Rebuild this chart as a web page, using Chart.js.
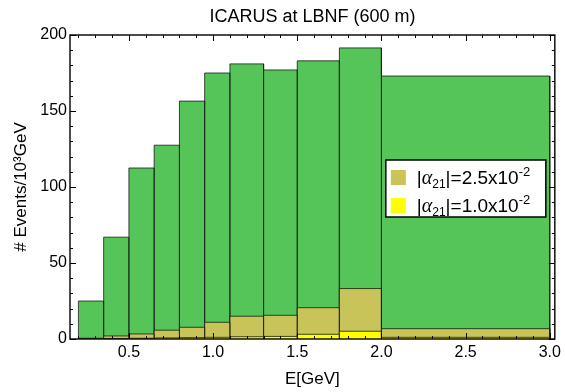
<!DOCTYPE html>
<html>
<head>
<meta charset="utf-8">
<script src="https://cdn.jsdelivr.net/npm/chart.js@4.4.1/dist/chart.umd.min.js"></script>
<style>
  html, body { margin: 0; padding: 0; background: #fff; }
</style>
</head>
<body>
<canvas id="icarusChart" width="565" height="392"></canvas>
<script>
// bin edges in GeV (11 bins, last one is wide)
const binEdges = [0.2, 0.35, 0.5, 0.65, 0.8, 0.95, 1.1, 1.3, 1.5, 1.75, 2.0, 3.0];
// events per 10^3 GeV
const totalEvents   = [25, 67, 112.5, 127.5, 156.5, 175, 181, 177, 183, 191.5, 173];
const alpha25Events = [0.5, 2, 3.3, 5.8, 7.7, 11, 15, 15.6, 20.6, 33.2, 6.8];
const alpha10Events = [0.1, 0.3, 0.5, 0.7, 0.9, 1.1, 1.5, 1.7, 3.1, 5.1, 1.1];
const xTickValues = [0.5, 1.0, 1.5, 2.0, 2.5, 3.0];
const yTickValues = [0, 50, 100, 150, 200];
const legendValues = ['2.5', '1.0'];
const seriesColors = ['#C8C45A', '#FFFF00'];

Chart.defaults.font.family = "'Liberation Sans', Arial, sans-serif";
Chart.defaults.font.size = 16;
Chart.defaults.color = '#000';

// turn bin values into a closed step outline so each bar gets its own edges
function histPoints(values) {
    const pts = [];
    for (let i = 0; i < values.length; i++) {
        pts.push({x: binEdges[i], y: 0});
        pts.push({x: binEdges[i], y: values[i]});
        pts.push({x: binEdges[i + 1], y: values[i]});
        pts.push({x: binEdges[i + 1], y: 0});
    }
    return pts;
}

function histDataset(label, values, color) {
    return {
        label: label,
        data: histPoints(values),
        backgroundColor: color,
        borderColor: 'rgba(20,30,20,0.8)',
        borderWidth: 1,
        fill: 'origin',
        pointRadius: 0,
        tension: 0
    };
}

// draws the alpha label with subscript and superscript
function drawAlphaText(ctx, x, y, value) {
    const parts = [
        {t: '|', font: '19px "Liberation Sans"', dy: 0},
        {t: '\u03B1', font: 'italic 20px "Liberation Serif"', dy: 0},
        {t: '21', font: '12px "Liberation Sans"', dy: 4},
        {t: '|=' + value + 'x10', font: '19px "Liberation Sans"', dy: 0},
        {t: '-2', font: '13px "Liberation Sans"', dy: -8}
    ];
    parts.forEach(p => {
        ctx.font = p.font;
        ctx.fillText(p.t, x, y + p.dy);
        x += ctx.measureText(p.t).width;
    });
}

const framePlugin = {
    id: 'frame',
    afterDatasetsDraw(chart) {
        const {ctx, chartArea: a, scales: {x, y}} = chart;
        ctx.save();
        ctx.strokeStyle = '#000';
        ctx.lineWidth = 1;
        ctx.beginPath();
        for (let k = 2; k <= 30; k++) {
            const px = Math.round(x.getPixelForValue(k / 10)) + 0.5;
            const len = k % 5 === 0 ? 6 : 3;
            ctx.moveTo(px, a.bottom); ctx.lineTo(px, a.bottom - len);
            ctx.moveTo(px, a.top); ctx.lineTo(px, a.top + len);
        }
        for (let v = 0; v <= 200; v += 10) {
            const py = Math.round(y.getPixelForValue(v)) + 0.5;
            const len = v % 50 === 0 ? 6 : 3;
            ctx.moveTo(a.left, py); ctx.lineTo(a.left + len, py);
            ctx.moveTo(a.right, py); ctx.lineTo(a.right - len, py);
        }
        ctx.stroke();
        ctx.lineWidth = 1.4;
        ctx.strokeRect(a.left, a.top, a.right - a.left, a.bottom - a.top);

        // legend box
        const lx = a.right - 169, ly = a.top + 125;
        ctx.fillStyle = '#fff';
        ctx.fillRect(lx, ly, 160, 57);
        ctx.lineWidth = 1.5;
        ctx.strokeRect(lx, ly, 160, 57);
        legendValues.forEach((val, i) => {
            const ry = ly + 10 + i * 28;
            ctx.fillStyle = seriesColors[i];
            ctx.fillRect(lx + 5, ry, 15, 15);
            ctx.fillStyle = '#000';
            ctx.textBaseline = 'alphabetic';
            drawAlphaText(ctx, lx + 31, ry + 14, val);
        });
        ctx.restore();
    }
};

new Chart(document.getElementById('icarusChart'), {
    type: 'line',
    data: {
        datasets: [
            histDataset('alpha 1.0e-2', alpha10Events, seriesColors[1]),
            histDataset('alpha 2.5e-2', alpha25Events, seriesColors[0]),
            histDataset('total', totalEvents, '#55C55A')
        ]
    },
    options: {
        responsive: false,
        animation: false,
        layout: { padding: { right: 9 } },
        plugins: {
            legend: { display: false },
            tooltip: { enabled: false },
            title: {
                display: true,
                text: 'ICARUS at LBNF (600 m)',
                fullSize: false,
                font: { size: 18, weight: 'normal' },
                padding: { top: 6, bottom: 7.4 }
            }
        },
        scales: {
            x: {
                type: 'linear',
                min: 0.15,
                max: 3.03,
                grid: { display: false, drawTicks: false },
                border: { display: false },
                afterBuildTicks: s => { s.ticks = xTickValues.map(v => ({value: v})); },
                afterFit: s => { s.height = 53; },
                ticks: { padding: 4, autoSkip: false, maxRotation: 0, callback: v => v.toFixed(1) },
                title: { display: true, text: 'E[GeV]', font: { size: 17 }, padding: { top: 0, bottom: 2 } }
            },
            y: {
                min: 0,
                max: 200,
                grid: { display: false, drawTicks: false },
                border: { display: false },
                afterBuildTicks: s => { s.ticks = yTickValues.map(v => ({value: v})); },
                afterFit: s => { s.width = 70; },
                ticks: { padding: 3 },
                title: { display: true, text: '# Events/10\u00B3GeV', font: { size: 17 }, padding: { top: 11, bottom: 0 } }
            }
        }
    },
    plugins: [framePlugin]
});
</script>
</body>
</html>
